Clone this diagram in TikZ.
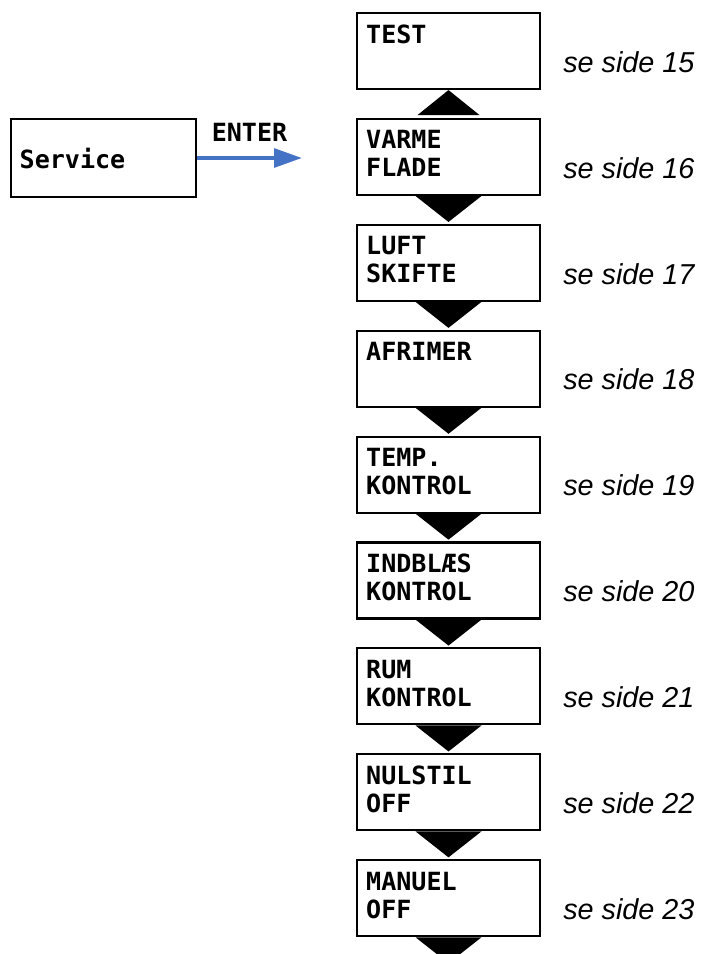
\documentclass[tikz,border=0pt]{standalone}
\usepackage{fontspec}
\newfontfamily\lcdfont{DejaVu Sans Mono}
\newfontfamily\pagefont{Liberation Sans}
\usetikzlibrary{arrows.meta}
\definecolor{enterblue}{RGB}{68,114,196}

\begin{document}
\begin{tikzpicture}[
  x=0.75pt,
  y=-0.75pt,
  menubox/.style={
    draw,
    line width=1.6pt,
    minimum width=137.25pt,
    minimum height=57pt,
    inner sep=0pt
  },
  startbox/.style={
    draw,
    line width=1.6pt,
    minimum width=138.75pt,
    minimum height=58.5pt,
    inner xsep=6.5pt,
    text width=125.75pt,
    align=left,
    font=\lcdfont\bfseries\fontsize{18.8pt}{21pt}\selectfont
  },
  boxtext/.style={
    anchor=north west,
    align=left,
    inner sep=0pt,
    font=\lcdfont\bfseries\fontsize{18.8pt}{21pt}\selectfont
  },
  keylabel/.style={
    inner sep=0pt,
    font=\lcdfont\bfseries\fontsize{18.8pt}{21pt}\selectfont
  },
  pagelabel/.style={
    anchor=west,
    inner sep=0pt,
    font=\pagefont\itshape\fontsize{21.6pt}{24pt}\selectfont
  },
  >={Triangle[length=21pt,width=14pt]}
]
\useasboundingbox (0,0) rectangle (701,954);
\clip (0,0) rectangle (701,954);

\node[startbox] (service) at (103.5,158) {Service};
\coordinate (enterend) at (302,158);
\draw[->, enterblue, line width=3pt] (service.east) -- node[keylabel, black, above=11pt] (enter) {ENTER} (enterend);

\foreach \i/\first/\second/\pg in {1/TEST//15, 2/VARME/FLADE/16, 3/LUFT/SKIFTE/17, 4/AFRIMER//18, 5/TEMP./KONTROL/19, 6/INDBLÆS/KONTROL/20, 7/RUM/KONTROL/21, 8/NULSTIL/OFF/22, 9/MANUEL/OFF/23} {
  \pgfmathsetmacro\ytop{13+105.9*(\i-1)}
  \node[menubox] (b\i) at (448.5, \ytop+38) {};
  \node[boxtext] (t\i) at ([shift={(10,12.5)}]b\i.north west) {\first\\\second};
  \node[pagelabel] (p\i) at (563, \ytop+49) {se side \pg};
}

\fill (b1.south) +(-31,25) -- +(31,25) -- +(0,0) -- cycle;
\foreach \i in {2,...,9}
  \fill (b\i.south) +(-33,0) -- +(33,0) -- +(0,26) -- cycle;
\end{tikzpicture}
\end{document}
